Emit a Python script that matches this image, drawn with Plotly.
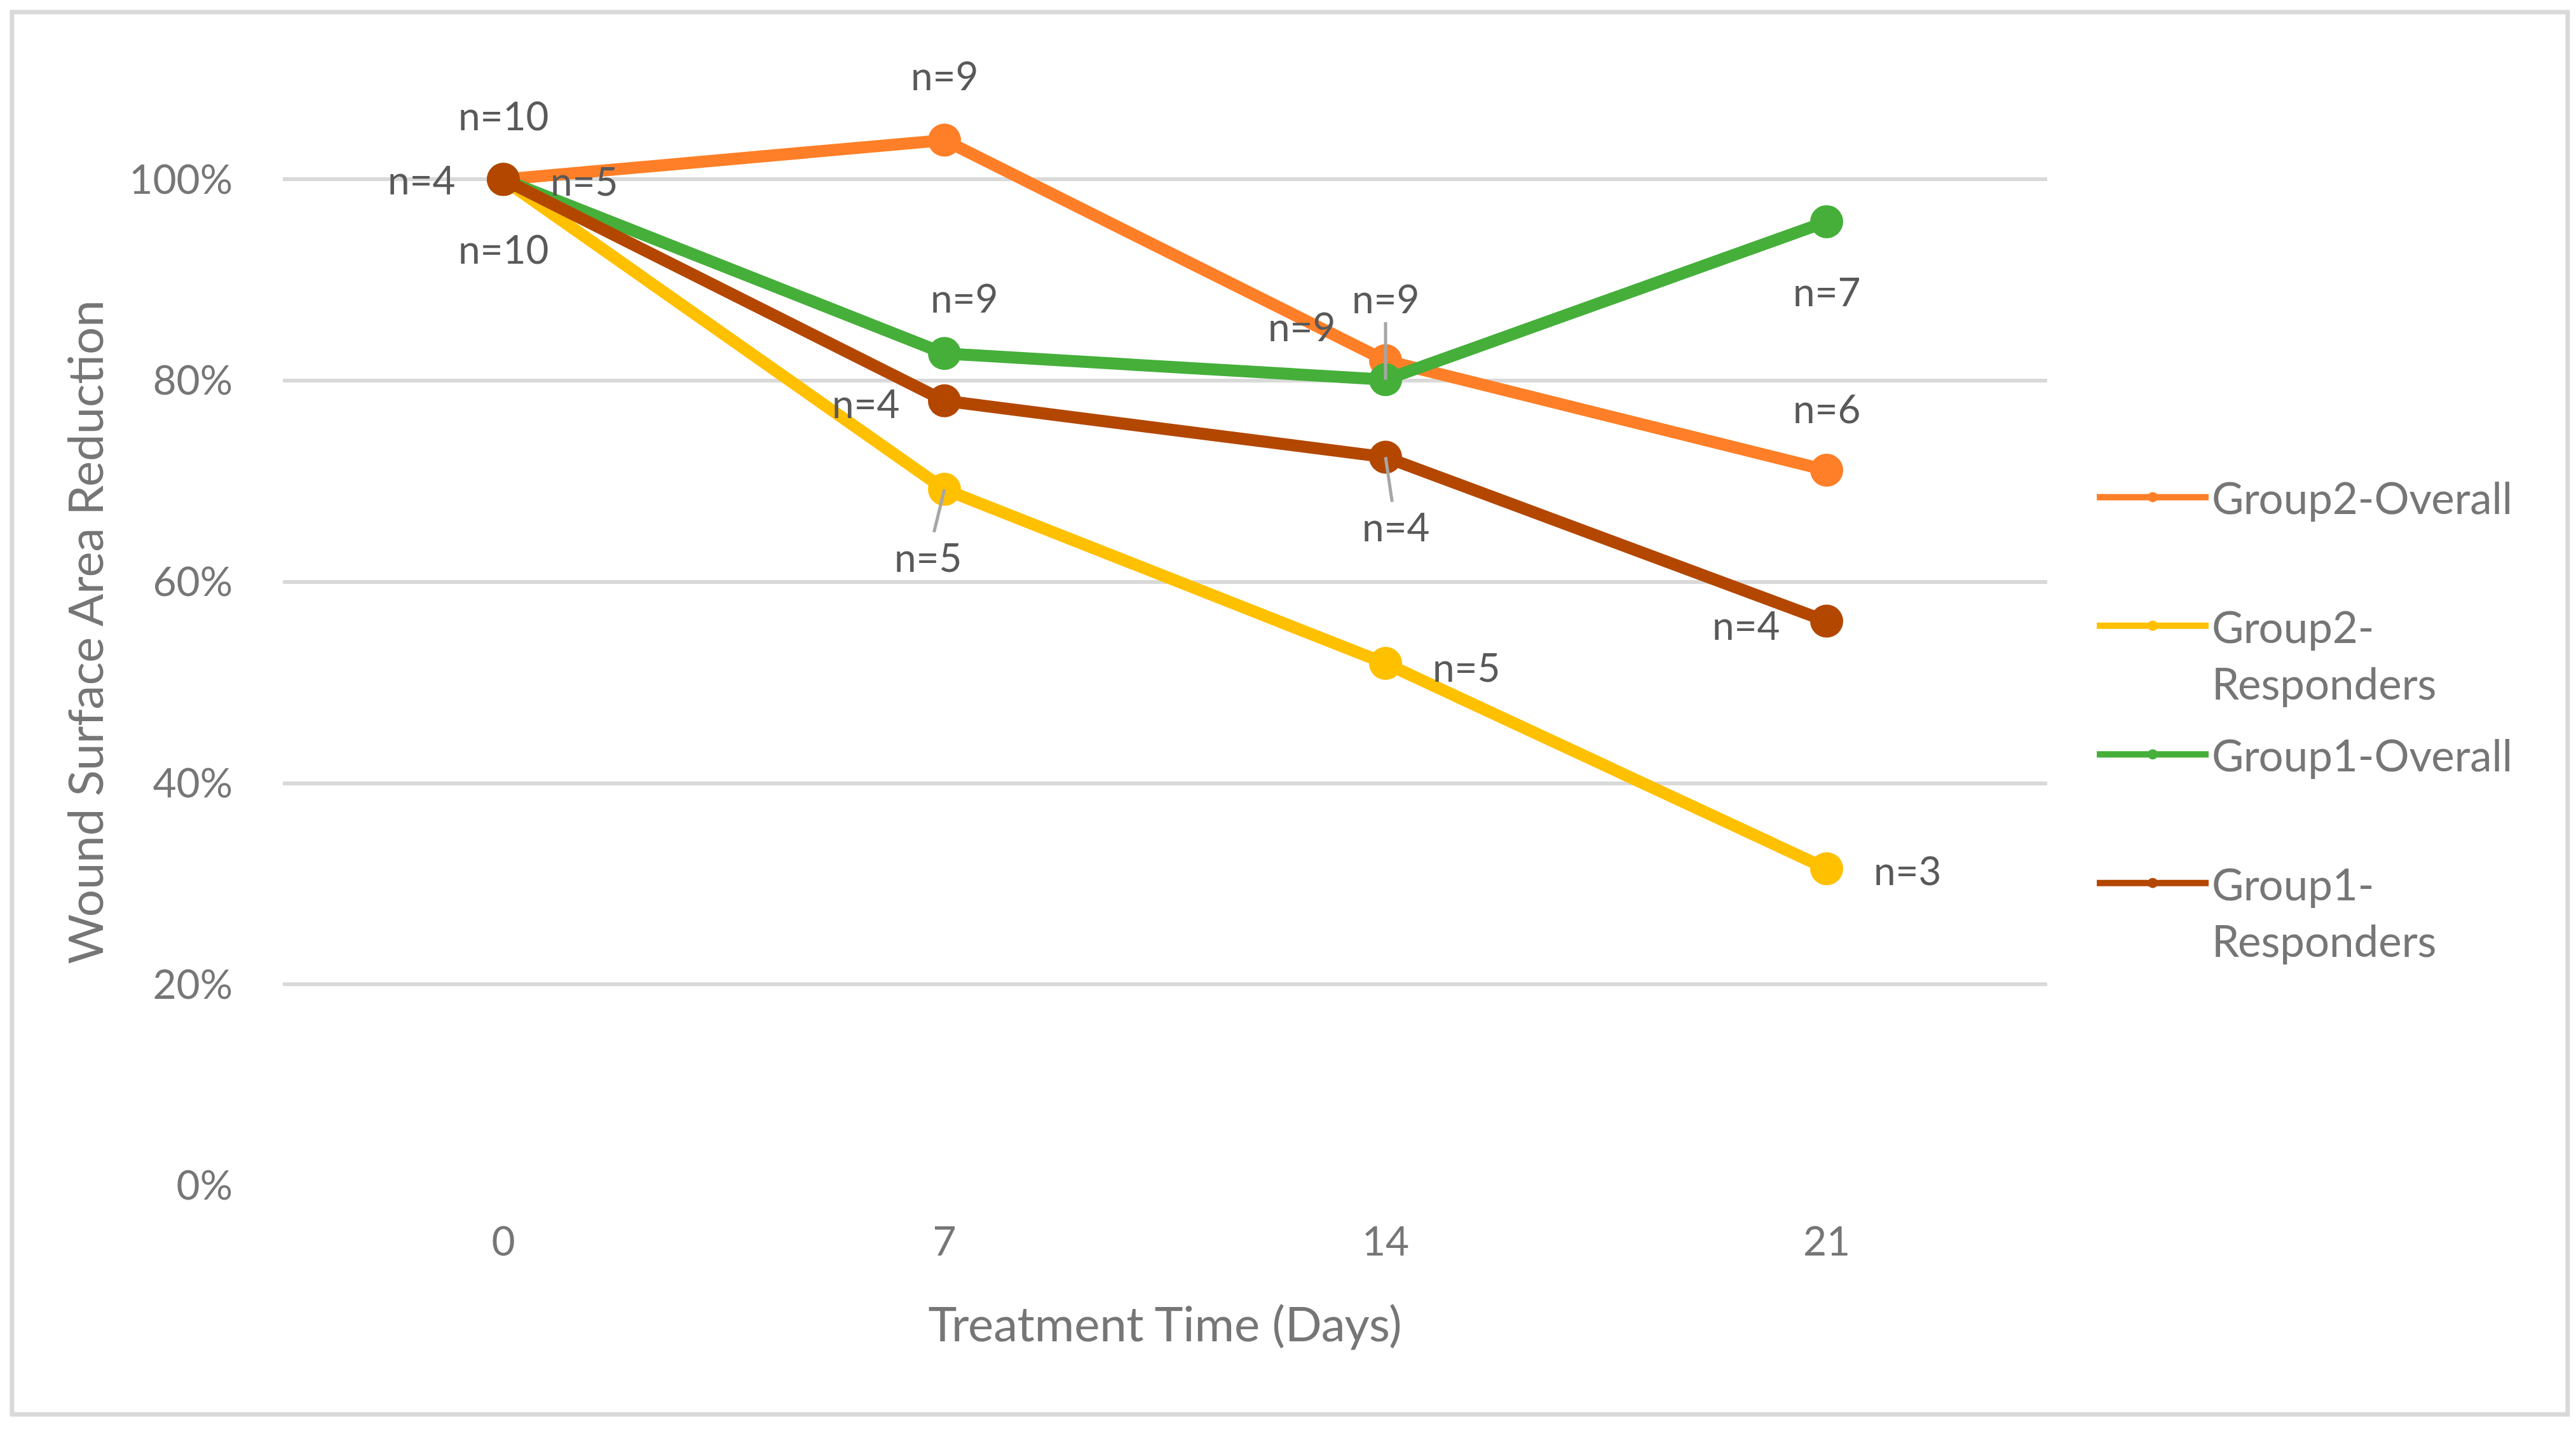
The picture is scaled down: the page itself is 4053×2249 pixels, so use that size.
import plotly.graph_objects as go

days = ["0", "7", "14", "21"]
series_names = ["Group2-Overall", "Group2-Responders", "Group1-Overall", "Group1-Responders"]
legend_labels = ["Group2-Overall<br> ", "Group2-<br>Responders", "Group1-Overall<br> ", "Group1-<br>Responders"]
g2_overall = [1.00, 1.039, 0.820, 0.711]
g2_responders = [1.00, 0.692, 0.519, 0.315]
g1_overall = [1.00, 0.827, 0.801, 0.958]
g1_responders = [1.00, 0.780, 0.724, 0.561]
values = [g2_overall, g2_responders, g1_overall, g1_responders]
colors = ["#FE7F27", "#FFC000", "#45AF3A", "#B34700"]

# n counts per series at each day
n_g2_overall = [10, 9, 9, 6]
n_g2_responders = [5, 5, 5, 3]
n_g1_overall = [10, 9, 9, 7]
n_g1_responders = [4, 4, 4, 4]
n_counts = [n_g2_overall, n_g2_responders, n_g1_overall, n_g1_responders]

# label offsets in pixels (dx, dy; dy positive = up) and whether a leader line is drawn
label_offsets = [
    [(0, 101), (0, 103), (-132, 54), (0, 98)],
    [(127, -2), (-26, -106), (127, -5), (127, -2)],
    [(0, -109), (31, 88), (0, 129), (0, -109)],
    [(-129, 0), (-124, -3), (16, -109), (-127, -5)],
]
leaders = [
    [False, False, False, False],
    [False, True, False, False],
    [False, False, True, False],
    [False, False, True, False],
]

FONT = "Lato"
TXT = "#767676"
LBL = "#595959"

fig = go.Figure()
for name, leg, vals, col in zip(series_names, legend_labels, values, colors):
    fig.add_trace(go.Scatter(
        x=days, y=vals, name=leg, mode="lines+markers",
        line=dict(color=col, width=19),
        marker=dict(color=col, size=52),
        legendgroup=name,
    ))

annotations = []
for s in range(4):
    for i, d in enumerate(days):
        dx, dy = label_offsets[s][i]
        txt = f"n={n_counts[s][i]}"
        if leaders[s][i]:
            annotations.append(dict(
                x=i, y=values[s][i], xref="x", yref="y", text=txt,
                showarrow=True, ax=dx, ay=-dy, arrowhead=0, arrowwidth=5,
                arrowcolor="#A6A6A6", standoff=0,
                font=dict(family=FONT, size=62, color=LBL),
            ))
        else:
            annotations.append(dict(
                x=i, y=values[s][i], xref="x", yref="y", text=txt,
                showarrow=False, xshift=dx, yshift=dy,
                font=dict(family=FONT, size=62, color=LBL),
            ))

fig.update_layout(
    width=4053, height=2249,
    margin=dict(l=437, r=840, t=116, b=391),
    paper_bgcolor="white", plot_bgcolor="white",
    font=dict(family=FONT, color=TXT, size=64),
    showlegend=True,
    legend=dict(
        x=1.0263, y=0.6515, xanchor="left", yanchor="top",
        font=dict(family=FONT, size=69, color=TXT),
        valign="top", tracegroupgap=20, itemwidth=176,
        traceorder="grouped", bgcolor="rgba(0,0,0,0)",
    ),
    xaxis=dict(
        type="category", categoryorder="array", categoryarray=days,
        range=[-0.5, 3.5], showgrid=False, showline=False, zeroline=False,
        ticks="", tickfont=dict(family=FONT, size=64, color=TXT),
        ticklabelstandoff=45,
        title=dict(text="Treatment Time (Days)", font=dict(family=FONT, size=76, color=TXT), standoff=68),
    ),
    yaxis=dict(
        range=[0, 1.1], tickvals=[0, 0.2, 0.4, 0.6, 0.8, 1.0], tickformat=".0%",
        showgrid=True, gridcolor="#D9D9D9", gridwidth=6, zeroline=False,
        showline=False, ticks="", tickfont=dict(family=FONT, size=64, color=TXT),
        ticklabelstandoff=78,
        title=dict(text="Wound Surface Area Reduction", font=dict(family=FONT, size=76, color=TXT), standoff=15),
    ),
    annotations=annotations,
    shapes=[dict(
        type="rect", xref="paper", yref="paper",
        x0=-0.1535, x1=1.2950, y0=-0.2066, y1=1.0603,
        line=dict(color="#D9D9D9", width=7), fillcolor="rgba(0,0,0,0)", layer="below",
    )],
)

fig.write_html("out.html")
